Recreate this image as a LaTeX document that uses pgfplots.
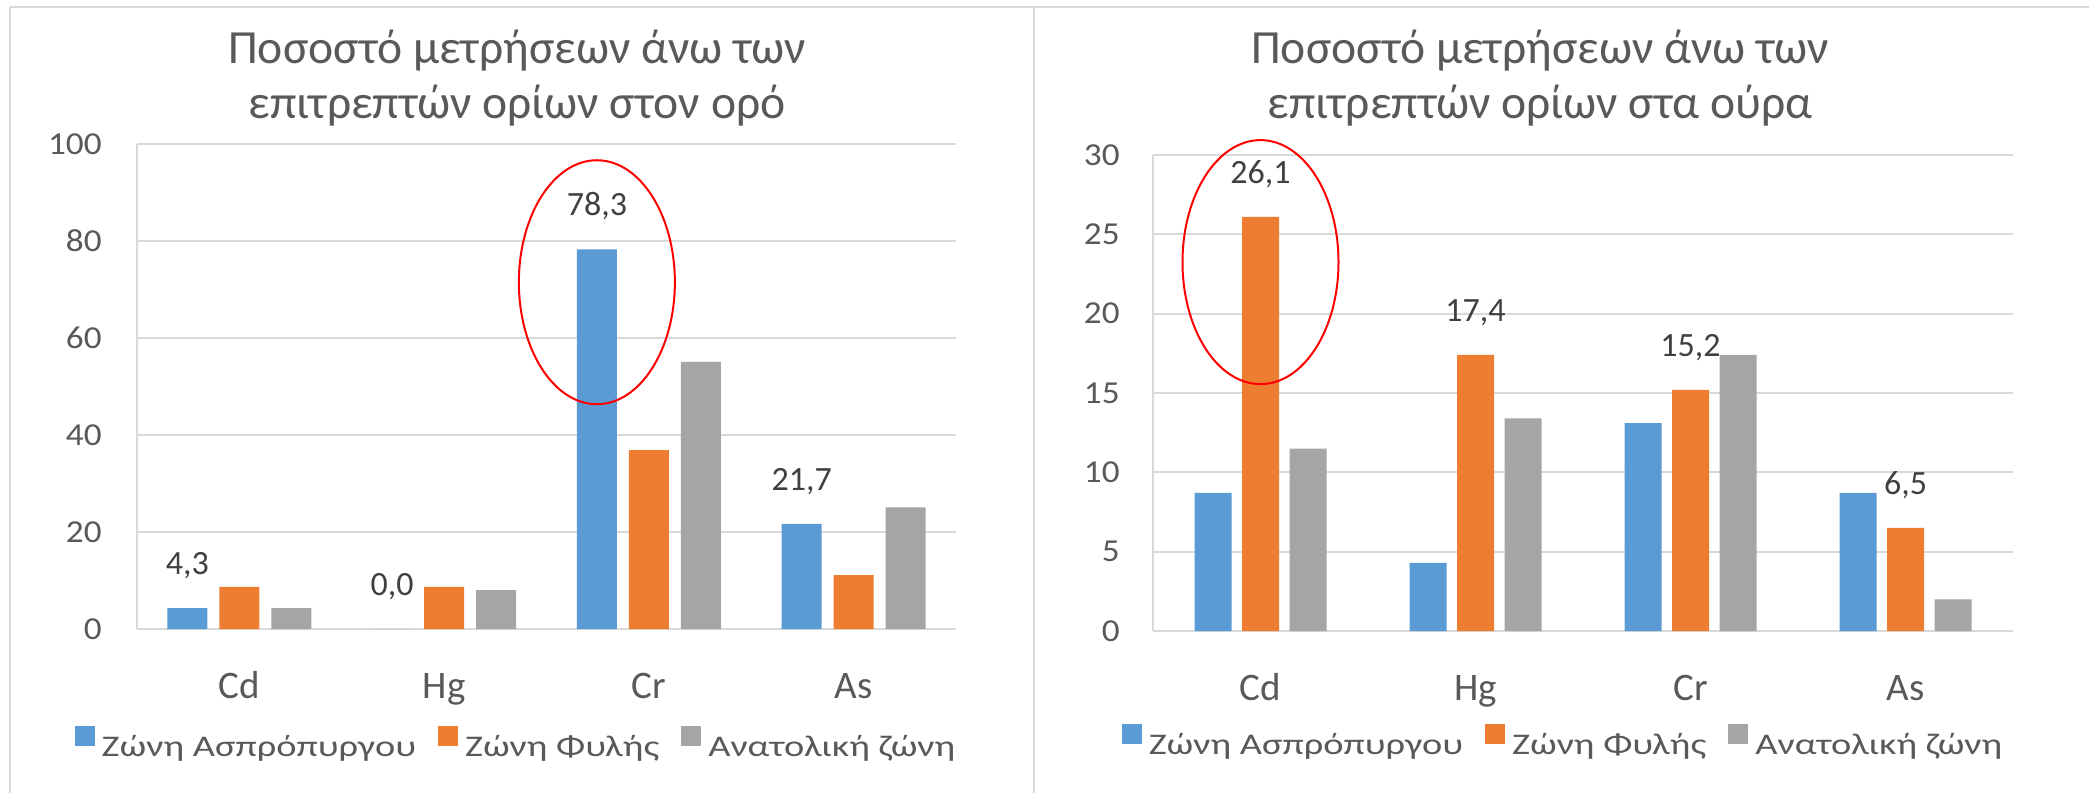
\documentclass[border=0pt]{standalone}
\usepackage{fontspec}
\setmainfont{Carlito}
\newfontfamily\tickfont{Carlito}[FakeStretch=1.1]
\newfontfamily\legfont{Carlito}[FakeStretch=1.28]
\usepackage{pgfplots}
\pgfplotsset{compat=1.18}

\definecolor{xblue}{HTML}{5B9BD5}
\definecolor{xorange}{HTML}{ED7D31}
\definecolor{xgray}{HTML}{A5A5A5}
\definecolor{txt}{HTML}{595959}
\definecolor{lbl}{HTML}{404040}
\definecolor{gridc}{HTML}{D9D9D9}

\pgfplotsset{
  excelbar/.style={
    scale only axis, clip=false,
    xmin=-0.5, xmax=3.5, ymin=0,
    xtick={0,1,2,3}, xticklabels={Cd,Hg,Cr,As},
    major tick length=0pt,
    axis x line*=bottom, axis y line*=left,
    axis line style={gridc, line width=1pt, -},
    ymajorgrids, grid style={gridc, line width=1pt},
    /pgf/number format/assume math mode=true,
    y tick label style={font=\tickfont\fontsize{16}{19}\selectfont, text=txt, anchor=east, inner sep=0pt},
    x tick label style={font=\fontsize{19.5}{23}\selectfont, text=txt, anchor=base, inner sep=0pt, yshift=-34.5pt},
    legend columns=3,
    legend style={draw=none, fill=none, font=\legfont\fontsize{15}{18}\selectfont, text=txt,
      inner sep=0pt, nodes={inner sep=0pt},
      /tikz/every odd column/.append style={column sep=3.5pt},
      /tikz/every even column/.append style={column sep=11pt}},
    every node near coord/.append style={font=\fontsize{17}{20}\selectfont, text=lbl,
      inner sep=0pt, text depth=0pt, yshift=16.5pt},
    nodes near coords={\pgfmathprintnumber[fixed,fixed zerofill,precision=1,use comma]{\pgfplotspointmeta}},
  },
  sqlegend/.style={legend image code/.code={\fill[##1] (0pt,0.5pt) rectangle (10pt,10.5pt);}},
}

\begin{document}
\begin{tikzpicture}
\path[use as bounding box, fill=white] (0pt,0pt) rectangle (1044.5pt,-396.5pt);
\draw[gridc, line width=1pt] (5pt,-3.5pt) -- (1044.5pt,-3.5pt);
\draw[gridc, line width=1pt] (5pt,-3.5pt) -- (5pt,-396.5pt);
\draw[gridc, line width=1pt] (517pt,-3.5pt) -- (517pt,-396.5pt);

\node[anchor=base, font=\fontsize{23.8}{28}\selectfont, text=txt] at (258.5pt,-31.5pt) {Ποσοστό μετρήσεων άνω των};
\node[anchor=base, font=\fontsize{23.8}{28}\selectfont, text=txt] at (258.5pt,-59pt) {επιτρεπτών ορίων στον ορό};
\node[anchor=base, font=\fontsize{23.8}{28}\selectfont, text=txt] at (770pt,-31.5pt) {Ποσοστό μετρήσεων άνω των};
\node[anchor=base, font=\fontsize{23.8}{28}\selectfont, text=txt] at (770pt,-59pt) {επιτρεπτών ορίων στα ούρα};

% serum
\begin{axis}[excelbar,
  at={(68.5pt,-314.5pt)}, anchor=south west,
  width=409.5pt, height=242.5pt,
  ymax=100, ytick={0,20,...,100},
  y tick label style={xshift=-17.5pt},
  ybar=6pt, bar width=20pt, sqlegend,
  legend style={at={(0.4615,0)}, anchor=north, yshift=-48.3pt},
]
\addplot[fill=xblue, draw=none] coordinates {(0,4.3) (1,0.0) (2,78.3) (3,21.7)};
\addplot[fill=xorange, draw=none, nodes near coords=] coordinates {(0,8.7) (1,8.7) (2,36.9) (3,11.1)};
\addplot[fill=xgray, draw=none, nodes near coords=] coordinates {(0,4.3) (1,8.0) (2,55.1) (3,25.1)};
\legend{Ζώνη Ασπρόπυργου, Ζώνη Φυλής, Ανατολική ζώνη}
\draw[red, line width=1pt] ([xshift=-26pt]axis cs:2,71.5) ellipse [x radius=39pt, y radius=61pt];
\end{axis}

% urine
\begin{axis}[excelbar,
  at={(576.5pt,-315.5pt)}, anchor=south west,
  width=430pt, height=238pt,
  ymax=30, ytick={0,5,...,30},
  y tick label style={xshift=-16.5pt},
  ybar=5.25pt, bar width=18.5pt, sqlegend,
  legend style={at={(0.4756,0)}, anchor=north, yshift=-46.3pt},
]
\addplot[fill=xblue, draw=none, nodes near coords=] coordinates {(0,8.7) (1,4.3) (2,13.1) (3,8.7)};
\addplot[fill=xorange, draw=none] coordinates {(0,26.1) (1,17.4) (2,15.2) (3,6.5)};
\addplot[fill=xgray, draw=none, nodes near coords=] coordinates {(0,11.5) (1,13.4) (2,17.4) (3,2.0)};
\legend{Ζώνη Ασπρόπυργου, Ζώνη Φυλής, Ανατολική ζώνη}
\draw[red, line width=1pt] (axis cs:0,23.25) ellipse [x radius=39pt, y radius=61pt];
\end{axis}
\end{tikzpicture}
\end{document}
